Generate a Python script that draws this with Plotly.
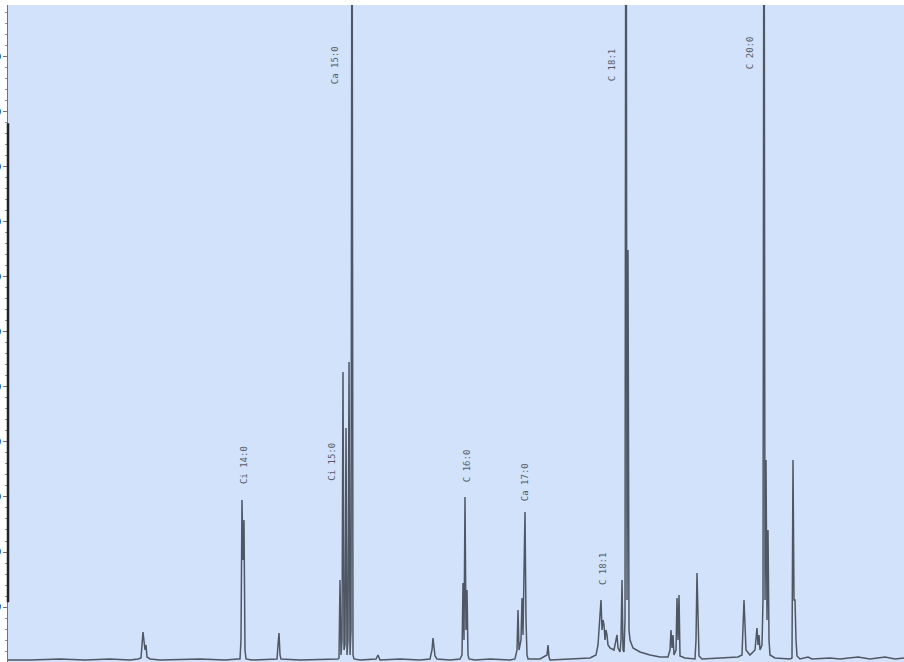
import plotly.graph_objects as go

# Retention time (min) and detector signal (pA)
time_min = [
    0.000, 0.550, 1.300, 1.925, 2.550, 3.050, 3.250, 3.325, 3.375, 3.425, 3.450, 3.475, 3.550, 3.800,
    4.800, 5.425, 5.750, 5.800, 5.825, 5.850, 5.875, 5.900, 5.925, 5.950, 6.100,
    6.725, 6.750, 6.775, 6.800, 6.825, 7.300, 8.050, 8.250,
    8.275, 8.300, 8.325, 8.350, 8.375, 8.400, 8.425, 8.450, 8.475, 8.500, 8.525, 8.550, 8.575, 8.600,
    8.625, 8.650, 8.800, 9.200, 9.250, 9.300, 9.800, 10.300, 10.550,
    10.600, 10.625, 10.650, 10.675, 10.725, 11.050, 11.300,
    11.350, 11.375, 11.400, 11.425, 11.450, 11.475, 11.500, 11.525, 11.675, 12.050, 12.550,
    12.675, 12.725, 12.750, 12.775, 12.825, 12.850, 12.875, 12.925, 12.950, 12.975, 13.000, 13.300,
    13.475, 13.500, 13.525, 13.550, 14.050, 14.550, 14.700, 14.750,
    14.775, 14.800, 14.825, 14.850, 14.875, 14.900, 14.925, 14.950, 14.975, 15.000, 15.050, 15.150,
    15.200, 15.225, 15.250, 15.300, 15.325, 15.350, 15.375, 15.400, 15.425, 15.450, 15.475, 15.500,
    15.525, 15.550, 15.625, 15.800, 16.050, 16.300, 16.500,
    16.550, 16.575, 16.600, 16.625, 16.650, 16.700, 16.725, 16.750, 16.775, 16.800, 16.925,
    17.175, 17.200, 17.225, 17.250, 17.275, 17.350, 17.800, 18.250,
    18.350, 18.400, 18.450, 18.550, 18.675,
    18.700, 18.725, 18.750, 18.775, 18.800, 18.850, 18.875, 18.900, 18.925, 18.950, 18.975, 19.000,
    19.025, 19.050, 19.175, 19.550,
    19.600, 19.625, 19.650, 19.675, 19.700, 19.725, 19.800, 20.000, 20.100, 20.550, 20.800, 21.250,
    21.550, 21.925, 22.175, 22.400,
]
signal_pA = [
    0.36, 0.36, 0.55, 0.36, 0.55, 0.36, 0.55, 0.73, 5.45, 2.18, 3.09, 0.91, 0.55, 0.36,
    0.55, 0.36, 0.55, 0.55, 4.00, 29.45, 18.55, 25.82, 2.18, 0.55, 0.36,
    0.55, 3.09, 5.27, 1.27, 0.55, 0.36, 0.55, 0.55,
    0.73, 14.91, 1.27, 4.00, 52.73, 2.18, 3.09, 42.55, 1.27, 4.00, 54.55, 1.27, 5.82, 165.0,
    1.27, 0.55, 0.36, 0.55, 1.27, 0.36, 0.55, 0.36, 0.55,
    2.18, 4.36, 1.82, 1.09, 0.55, 0.36, 0.55,
    1.27, 14.36, 4.00, 30.00, 5.82, 13.09, 1.27, 0.55, 0.36, 0.55, 0.36,
    0.55, 2.18, 9.45, 2.18, 4.00, 11.64, 4.91, 27.27, 7.64, 1.27, 0.55, 0.55,
    1.27, 3.09, 0.91, 0.36, 0.55, 0.73, 1.27, 3.09,
    5.82, 8.55, 11.27, 5.82, 7.64, 6.73, 4.00, 5.82, 4.91, 3.09, 2.55, 2.18,
    4.00, 4.91, 2.55, 1.82, 4.00, 14.91, 2.18, 1.82, 7.64, 190.0, 11.27, 74.91,
    5.82, 4.00, 2.55, 1.82, 1.27, 0.91, 0.91,
    2.18, 5.82, 2.55, 4.91, 1.27, 2.18, 11.64, 4.00, 12.18, 1.09, 0.73,
    0.55, 4.00, 16.18, 7.64, 1.09, 0.55, 0.73, 0.91,
    1.27, 11.27, 2.18, 1.27, 2.18,
    4.00, 6.18, 3.09, 4.91, 2.18, 3.09, 11.27, 170.0, 11.27, 36.73, 7.64, 24.00,
    4.00, 1.27, 0.73, 0.55,
    0.73, 36.73, 11.27, 11.27, 4.00, 1.09, 0.55, 0.91, 0.55, 0.73, 0.55, 0.91,
    0.55, 0.91, 0.55, 0.73,
]

# Peak labels
peak_names = ["Ci 14:0", "Ci 15:0", "Ca 15:0", "C 16:0", "Ca 17:0", "C 18:1", "C 18:1", "C 20:0"]
label_time = [5.90, 8.10, 8.175, 11.475, 12.925, 14.875, 15.10, 18.55]
label_signal = [35.8, 36.4, 108.5, 35.6, 32.7, 16.9, 108.5, 110.7]

fig = go.Figure()
fig.add_trace(go.Scatter(
    x=time_min, y=signal_pA, mode="lines",
    line=dict(color="#4f5764", width=1.5),
    hoverinfo="x+y", showlegend=False,
))

for name, t, s in zip(peak_names, label_time, label_signal):
    fig.add_annotation(
        x=t, y=s, text=name, showarrow=False, textangle=-90,
        font=dict(family="DejaVu Sans Mono", size=9, color="#555c66"),
        xanchor="center", yanchor="middle",
    )

# dark scale segment along the left axis
fig.add_shape(type="line", xref="paper", yref="paper", x0=0, x1=0, y0=0.091, y1=0.82,
              line=dict(color="#1f2228", width=2.5))

fig.update_layout(
    width=904, height=662,
    margin=dict(l=8, r=0, t=5, b=0, autoexpand=False),
    paper_bgcolor="white",
    plot_bgcolor="#d3e2fb",
    showlegend=False,
    xaxis=dict(range=[0, 22.4], showgrid=False, zeroline=False, showticklabels=False,
               showline=False, ticks="", automargin=False),
    yaxis=dict(range=[0, 119.45], showgrid=False, zeroline=False, automargin=False,
               showline=True, linecolor="#6f747c", linewidth=1,
               ticks="outside", tickcolor="#6f747c", ticklen=4, dtick=10, tick0=0,
               tickfont=dict(family="DejaVu Sans", size=9, color="black"),
               minor=dict(ticks="outside", ticklen=2, dtick=2, tickcolor="#8a8f96")),
)

fig.write_html(
    "out.html",
    config={"displayModeBar": False},
    post_script="document.body.style.margin='0';document.body.style.padding='0';"
                "document.body.style.overflow='hidden';",
)
